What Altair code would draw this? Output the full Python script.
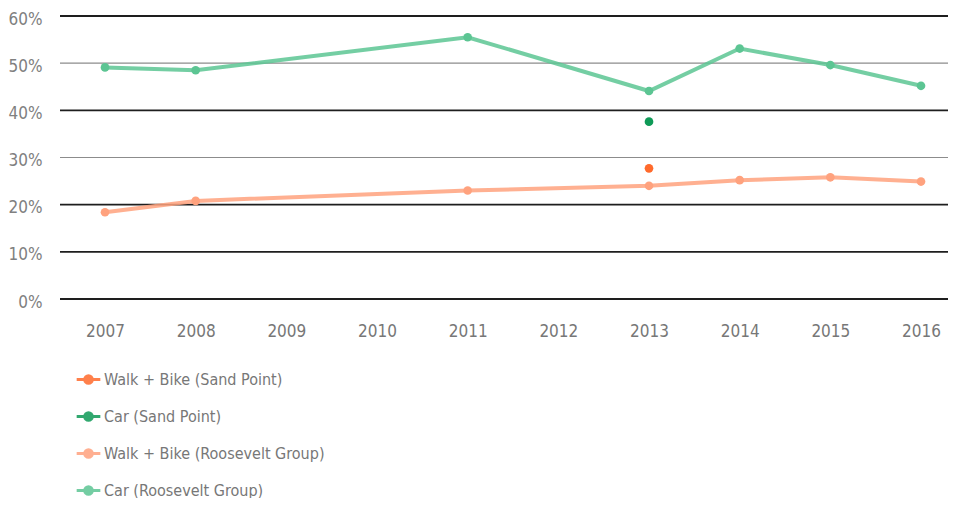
import altair as alt
import pandas as pd

years = ["2007", "2008", "2009", "2010", "2011", "2012", "2013", "2014", "2015", "2016"]
walk_sand = [None, None, None, None, None, None, 27.7, None, None, None]
car_sand = [None, None, None, None, None, None, 37.6, None, None, None]
walk_roosevelt = [18.4, 20.8, None, None, 23.0, None, 24.0, 25.2, 25.8, 24.9]
car_roosevelt = [49.1, 48.5, None, None, 55.5, None, 44.1, 53.1, 49.6, 45.2]
y_ticks = [0, 10, 20, 30, 40, 50, 60]

series_names = [
    "Walk + Bike (Sand Point)",
    "Car (Sand Point)",
    "Walk + Bike (Roosevelt Group)",
    "Car (Roosevelt Group)",
]
series_colors = ["#ff6a2c", "#0f9a57", "#ffa27e", "#5cc593"]
series_values = [walk_sand, car_sand, walk_roosevelt, car_roosevelt]

rows = []
for name, vals in zip(series_names, series_values):
    for yr, v in zip(years, vals):
        if v is not None:
            rows.append({"year": yr, "value": v, "series": name})
df = pd.DataFrame(rows)
grid_df = pd.DataFrame({"value": y_ticks})

FONT = "DejaVu Sans Condensed, Liberation Sans Narrow, Roboto"

color_scale = alt.Scale(domain=series_names, range=series_colors)
color = alt.Color(
    "series:N",
    scale=color_scale,
    legend=alt.Legend(
        title=None,
        orient="none",
        legendX=15,
        legendY=350,
        direction="vertical",
        symbolType="M-1,0H1M0.32,0A0.32,0.32 0 1 1 -0.32,0A0.32,0.32 0 1 1 0.32,0",
        symbolSize=560,
        symbolStrokeWidth=3,
        labelFontSize=16,
        labelFont=FONT,
        labelColor="#777777",
        labelOffset=2,
        labelLimit=0,
        rowPadding=13,
    ),
)

x = alt.X(
    "year:O",
    scale=alt.Scale(type="point", domain=years, range=[45, 861], padding=0),
    axis=alt.Axis(
        title=None, labelAngle=0, domain=False, ticks=False, grid=False,
        labelPadding=24, labelFontSize=17, labelFont=FONT, labelColor="#777777",
    ),
)
y_scale = alt.Scale(domain=[0, 60], nice=False)
y = alt.Y(
    "value:Q",
    scale=y_scale,
    axis=alt.Axis(
        title=None, values=y_ticks, domain=False, ticks=False, grid=False,
        labelExpr="datum.value + '%'", labelPadding=18, labelFontSize=17,
        labelOffset=3, labelFont=FONT, labelColor="#808080",
    ),
)

is_light = "datum.value == 50 || datum.value == 30"
grid = alt.Chart(grid_df).mark_rule().encode(
    y=y,
    x=alt.value(0),
    x2=alt.value(897),
    color=alt.condition(is_light, alt.value("#8c8c8c"), alt.value("#1e1e1e")),
    strokeWidth=alt.condition(is_light, alt.value(1.2), alt.value(1.8)),
)

lines = alt.Chart(df).transform_filter(
    "indexof(datum.series, 'Roosevelt') >= 0"
).mark_line(strokeWidth=4, opacity=0.85).encode(x=x, y=y, color=color)

points = alt.Chart(df).mark_point(filled=True, size=75, opacity=1).encode(
    x=x, y=y, color=color,
    fill=alt.Fill("series:N", scale=color_scale, legend=None),
)

chart = alt.layer(grid, lines, points).properties(
    width=888,
    height=283,
    background="white",
    autosize=alt.AutoSizeParams(type="none"),
    padding={"left": 52, "top": 8, "right": 0, "bottom": 199},
).configure_view(stroke=None)

chart.save("out.html", embed_options={"renderer": "svg", "actions": False})
